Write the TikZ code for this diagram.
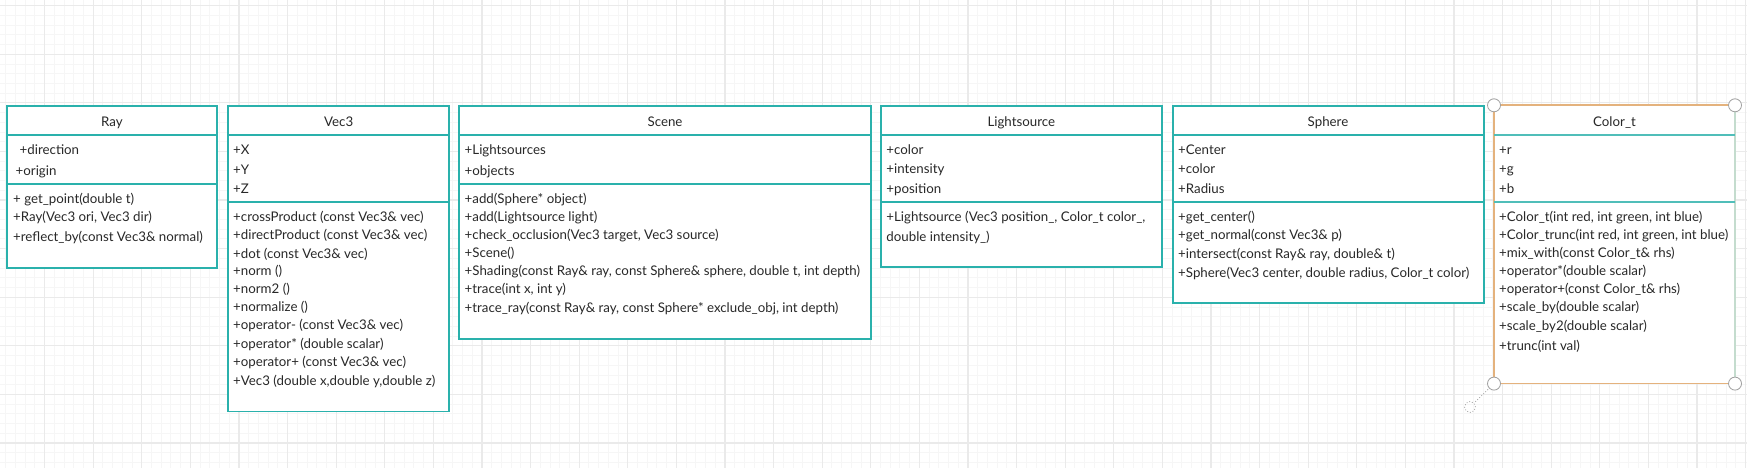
\documentclass[tikz,border=0pt]{standalone}
\usepackage{fontspec}
\setmainfont{Lato}
\definecolor{teal1}{RGB}{42,177,172}
\definecolor{teal2}{RGB}{80,190,185}
\definecolor{gridmin}{RGB}{246,246,246}
\definecolor{gridmaj}{RGB}{234,234,234}
\definecolor{txtc}{RGB}{40,40,40}
\definecolor{selor}{RGB}{228,178,125}
\definecolor{selgr}{RGB}{196,220,206}
\definecolor{hgray}{RGB}{160,160,160}
\begin{document}
\begin{tikzpicture}[x=1pt,y=-1pt,
  gridminor/.style={draw=gridmin, line width=0.8pt},
  gridmajor/.style={draw=gridmaj, line width=1.2pt},
  classbox/.style={draw=teal1, line width=1.8pt, fill=white, anchor=north west, inner sep=0pt, outer sep=0pt},
  sep/.style={draw=teal1, line width=1.8pt},
  sepl/.style={draw=teal2, line width=1.8pt},
  mem/.style={anchor=mid west, inner sep=0pt, yshift=-2.3pt, font=\fontsize{13.3}{15}\selectfont, text=txtc},
  ttl/.style={anchor=mid, inner sep=0pt, yshift=-2.3pt, font=\fontsize{13.3}{15}\selectfont, text=txtc},
  handle/.style={circle, draw=hgray, fill=white, line width=0.8pt, minimum size=13pt, inner sep=0pt},
  rothandle/.style={circle, draw=hgray, dotted, line width=0.8pt, minimum size=11pt, inner sep=0pt},
]
\useasboundingbox (0,0) rectangle (1747,468);
\fill[white] (0,0) rectangle (1747,468);
% grid
\foreach \i in {-5,...,180} {
  \draw[gridminor] ({44.5+9.72*\i},0) -- ({44.5+9.72*\i},468);
}
\foreach \i in {0,...,50} {
  \draw[gridminor] (0,{5.6+9.72*\i}) -- (1747,{5.6+9.72*\i});
}
\foreach \i in {-1,...,36} {
  \draw[gridmajor] ({44.5+48.6*\i},0) -- ({44.5+48.6*\i},468);
}
\foreach \i in {0,...,10} {
  \draw[gridmajor] (0,{5.6+48.6*\i}) -- (1747,{5.6+48.6*\i});
}

% ---------------- Ray
\node[classbox, minimum width=210.6pt, minimum height=162pt] (ray) at (6.7,105.7) {};
\node[ttl] (rayT) at (112,121.5) {Ray};
\draw[sep] (ray.west |- 0,135) -- (ray.east |- 0,135);
\draw[sep] (ray.west |- 0,183.7) -- (ray.east |- 0,183.7);
\node[mem] (ray1) at (19.5,150) {+direction};
\node[mem] (ray2) at (15.5,170.3) {+origin};
\node[mem] (ray3) at (13,198.3) {+ get\_point(double t)};
\node[mem] (ray4) at (13,216.7) {+Ray(Vec3 ori, Vec3 dir)};
\node[mem] (ray5) at (13,236.7) {+reflect\_by(const Vec3\& normal)};

% ---------------- Vec3
\node[classbox, minimum width=220.7pt, minimum height=305.7pt] (vec) at (228.3,105.7) {};
\node[ttl] (vecT) at (338.7,121.5) {Vec3};
\draw[sep] (vec.west |- 0,135) -- (vec.east |- 0,135);
\draw[sep] (vec.west |- 0,201.7) -- (vec.east |- 0,201.7);
\node[mem] (vec1) at (233,150) {+X};
\node[mem] (vec2) at (233,169.3) {+Y};
\node[mem] (vec3) at (233,188.3) {+Z};
\node[mem] (vec4) at (233,216.7) {+crossProduct (const Vec3\& vec)};
\node[mem] (vec5) at (233,235) {+directProduct (const Vec3\& vec)};
\node[mem] (vec6) at (233,253.3) {+dot (const Vec3\& vec)};
\node[mem] (vec7) at (233,270.7) {+norm ()};
\node[mem] (vec8) at (233,289) {+norm2 ()};
\node[mem] (vec9) at (233,306.7) {+normalize ()};
\node[mem] (vec10) at (233,325) {+operator- (const Vec3\& vec)};
\node[mem] (vec11) at (233,343.3) {+operator* (double scalar)};
\node[mem] (vec12) at (233,361.7) {+operator+ (const Vec3\& vec)};
\node[mem] (vec13) at (233,380.3) {+Vec3 (double x,double y,double z)};

% ---------------- Scene
\node[classbox, minimum width=411.4pt, minimum height=233.5pt] (scn) at (459.3,105.7) {};
\node[ttl] (scnT) at (665,121.5) {Scene};
\draw[sep] (scn.west |- 0,135) -- (scn.east |- 0,135);
\draw[sep] (scn.west |- 0,183.7) -- (scn.east |- 0,183.7);
\node[mem] (scn1) at (464.5,150) {+Lightsources};
\node[mem] (scn2) at (464.5,170.3) {+objects};
\node[mem] (scn3) at (464.5,198.3) {+add(Sphere* object)};
\node[mem] (scn4) at (464.5,216.7) {+add(Lightsource light)};
\node[mem] (scn5) at (464.5,235) {+check\_occlusion(Vec3 target, Vec3 source)};
\node[mem] (scn6) at (464.5,252.3) {+Scene()};
\node[mem] (scn7) at (464.5,270.7) {+Shading(const Ray\& ray, const Sphere\& sphere, double t, int depth)};
\node[mem] (scn8) at (464.5,289) {+trace(int x, int y)};
\node[mem] (scn9) at (464.5,307.7) {+trace\_ray(const Ray\& ray, const Sphere* exclude\_obj, int depth)};

% ---------------- Lightsource
\node[classbox, minimum width=281.3pt, minimum height=161.6pt] (lgt) at (880.7,105.7) {};
\node[ttl] (lgtT) at (1021.3,121.5) {Lightsource};
\draw[sep] (lgt.west |- 0,135) -- (lgt.east |- 0,135);
\draw[sep] (lgt.west |- 0,201.7) -- (lgt.east |- 0,201.7);
\node[mem] (lgt1) at (886.2,150) {+color};
\node[mem] (lgt2) at (886.2,168.3) {+intensity};
\node[mem] (lgt3) at (886.2,188.3) {+position};
\node[mem] (lgt4) at (886.2,216.7) {+Lightsource (Vec3 position\_, Color\_t color\_,};
\node[mem] (lgt5) at (886.2,236.5) {double intensity\_)};

% ---------------- Sphere
\node[classbox, minimum width=311pt, minimum height=197.6pt] (sph) at (1172.7,105.7) {};
\node[ttl] (sphT) at (1328,121.5) {Sphere};
\draw[sep] (sph.west |- 0,135) -- (sph.east |- 0,135);
\draw[sep] (sph.west |- 0,201.7) -- (sph.east |- 0,201.7);
\node[mem] (sph1) at (1178,150) {+Center};
\node[mem] (sph2) at (1178,168.3) {+color};
\node[mem] (sph3) at (1178,188.3) {+Radius};
\node[mem] (sph4) at (1178,216.7) {+get\_center()};
\node[mem] (sph5) at (1178,235) {+get\_normal(const Vec3\& p)};
\node[mem] (sph6) at (1178,253.3) {+intersect(const Ray\& ray, double\& t)};
\node[mem] (sph7) at (1178,272.3) {+Sphere(Vec3 center, double radius, Color\_t color)};

% ---------------- Color_t (selected)
\node[classbox, draw=selor, line width=1.6pt, minimum width=241pt, minimum height=278.3pt] (col) at (1494,105.3) {};
\draw[selgr, line width=1.6pt] (col.north east) -- (col.south east);
\node[ttl] (colT) at (1614.5,121.5) {Color\_t};
\draw[sepl] (col.west |- 0,135) -- (col.east |- 0,135);
\draw[sepl] (col.west |- 0,202) -- (col.east |- 0,202);
\node[mem] (col1) at (1499,150) {+r};
\node[mem] (col2) at (1499,168.3) {+g};
\node[mem] (col3) at (1499,188.3) {+b};
\node[mem] (col4) at (1499,216.7) {+Color\_t(int red, int green, int blue)};
\node[mem] (col5) at (1499,234.3) {+Color\_trunc(int red, int green, int blue)};
\node[mem] (col6) at (1499,252.3) {+mix\_with(const Color\_t\& rhs)};
\node[mem] (col7) at (1499,270.7) {+operator*(double scalar)};
\node[mem] (col8) at (1499,289) {+operator+(const Color\_t\& rhs)};
\node[mem] (col9) at (1499,307) {+scale\_by(double scalar)};
\node[mem] (col10) at (1499,325.3) {+scale\_by2(double scalar)};
\node[mem] (col11) at (1499,345.3) {+trunc(int val)};

% selection handles
\node[rothandle] (rot) at (1470,407) {};
\draw[hgray, dotted, line width=0.8pt] (col.south west) -- (rot);
\node[handle] (hnw) at (col.north west) {};
\node[handle] (hne) at (col.north east) {};
\node[handle] (hsw) at (col.south west) {};
\node[handle] (hse) at (col.south east) {};
\end{tikzpicture}
\end{document}
